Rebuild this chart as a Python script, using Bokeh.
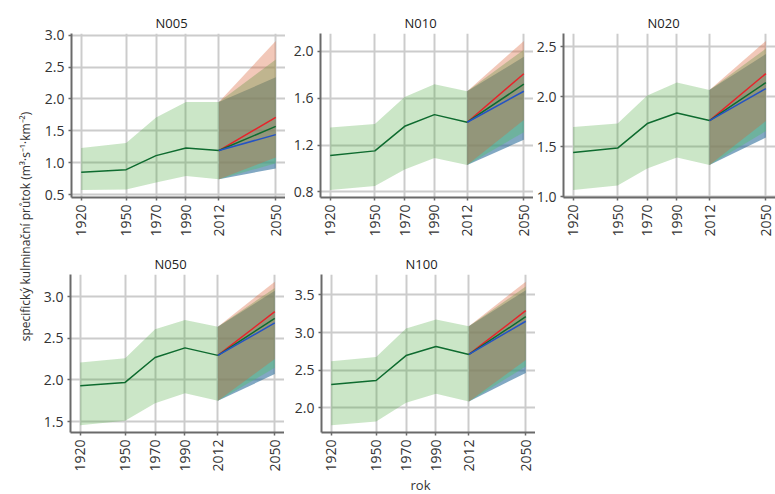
import math

from bokeh.embed import file_html
from bokeh.layouts import column, row
from bokeh.models import FixedTicker, Label, PrintfTickFormatter, Range1d
from bokeh.plotting import figure
from bokeh.resources import INLINE

FONT = "Open Sans"

# time axis
hist_years = [1920, 1950, 1970, 1990, 2012]
proj_years = [2012, 2050]
year_ticks = [1920, 1950, 1970, 1990, 2012, 2050]

# historical mean and envelope (m3/s/km2)
n005_mean = [0.85, 0.89, 1.11, 1.23, 1.19]
n005_low = [0.57, 0.58, 0.69, 0.79, 0.74]
n005_high = [1.23, 1.31, 1.71, 1.95, 1.95]
n010_mean = [1.11, 1.15, 1.36, 1.46, 1.395]
n010_low = [0.815, 0.85, 0.99, 1.09, 1.03]
n010_high = [1.35, 1.38, 1.61, 1.72, 1.66]
n020_mean = [1.44, 1.485, 1.73, 1.835, 1.76]
n020_low = [1.065, 1.11, 1.28, 1.39, 1.315]
n020_high = [1.695, 1.73, 2.01, 2.14, 2.065]
n050_mean = [1.93, 1.97, 2.27, 2.385, 2.295]
n050_low = [1.455, 1.51, 1.72, 1.84, 1.75]
n050_high = [2.21, 2.26, 2.61, 2.72, 2.64]
n100_mean = [2.31, 2.365, 2.695, 2.815, 2.71]
n100_low = [1.77, 1.82, 2.07, 2.19, 2.085]
n100_high = [2.62, 2.675, 3.055, 3.175, 3.085]

# 2050 projections, one value per scenario: [red, green, blue]
n005_2050_mean = [1.71, 1.57, 1.44]
n005_2050_low = [1.08, 0.99, 0.91]
n005_2050_high = [2.91, 2.62, 2.34]
n010_2050_mean = [1.81, 1.72, 1.66]
n010_2050_low = [1.415, 1.31, 1.245]
n010_2050_high = [2.09, 2.015, 1.955]
n020_2050_mean = [2.23, 2.14, 2.08]
n020_2050_low = [1.755, 1.655, 1.59]
n020_2050_high = [2.556, 2.48, 2.425]
n050_2050_mean = [2.82, 2.74, 2.685]
n050_2050_low = [2.25, 2.145, 2.07]
n050_2050_high = [3.18, 3.105, 3.07]
n100_2050_mean = [3.29, 3.21, 3.15]
n100_2050_low = [2.635, 2.55, 2.465]
n100_2050_high = [3.675, 3.61, 3.56]

# y ticks per panel
n005_ticks = [0.5, 1.0, 1.5, 2.0, 2.5, 3.0]
n010_ticks = [0.8, 1.2, 1.6, 2.0]
n020_ticks = [1.0, 1.5, 2.0, 2.5]
n050_ticks = [1.5, 2.0, 2.5, 3.0]
n100_ticks = [2.0, 2.5, 3.0, 3.5]

y_title = "specifický kulminační průtok (m³·s⁻¹·km⁻²)"
x_title = "rok"

HIST_FILL = "#46A537"
HIST_ALPHA = 0.28
LINE_DARK = "#0E6B2F"
# scenario envelopes: [red, green, blue]
SCEN_FILL = ["#DB6237", "#56BE71", "#1C6192"]
SCEN_ALPHA = [0.35, 0.45, 0.55]
SCEN_LINE = ["#E8222A", "#0E6B2F", "#2453C4"]
GRID = "#cccccc"
AXIS = "#6a6a6a"
TEXT = "#333333"


def panel(name, mean, low, high, m50, l50, h50, yticks,
          width, height, border_left, border_top, frame_h):
    span = year_ticks[-1] - year_ticks[0]
    xpad = 0.05 * span
    lo = min(low + l50)
    hi = max(high + h50)
    ypad = 0.05 * (hi - lo)
    p = figure(width=width, height=height,
               x_range=Range1d(year_ticks[0] - xpad, year_ticks[-1] + xpad),
               y_range=Range1d(lo - ypad, hi + ypad),
               output_backend="svg", toolbar_location=None,
               min_border_left=border_left, min_border_right=0,
               min_border_top=border_top,
               min_border_bottom=height - border_top - frame_h,
               title=name)
    p.outline_line_color = None
    p.background_fill_color = "white"
    p.border_fill_color = "white"

    p.title.align = "left"
    p.title.offset = 84
    p.title.standoff = 4
    p.title.text_font = FONT
    p.title.text_font_size = "13px"
    p.title.text_font_style = "normal"
    p.title.text_color = "#222222"

    p.xaxis.ticker = FixedTicker(ticks=year_ticks)
    p.yaxis.ticker = FixedTicker(ticks=yticks)
    p.yaxis.formatter = PrintfTickFormatter(format="%.1f")
    p.xaxis.major_label_orientation = math.pi / 2
    for ax in (p.xaxis, p.yaxis):
        ax.axis_line_color = AXIS
        ax.axis_line_width = 2
        ax.major_tick_line_color = AXIS
        ax.major_tick_line_width = 1.5
        ax.major_tick_out = 3
        ax.major_tick_in = 0
        ax.minor_tick_line_color = None
        ax.major_label_standoff = 4
        ax.major_label_text_font = FONT
        ax.major_label_text_font_size = "14px"
        ax.major_label_text_color = TEXT
    p.grid.grid_line_color = GRID
    p.grid.grid_line_width = 2

    # historical envelope and mean
    p.varea(x=hist_years, y1=low, y2=high,
            fill_color=HIST_FILL, fill_alpha=HIST_ALPHA)
    # scenario envelopes, blue first so red sits on top
    for i in (2, 1, 0):
        p.varea(x=proj_years, y1=[low[-1], l50[i]], y2=[high[-1], h50[i]],
                fill_color=SCEN_FILL[i], fill_alpha=SCEN_ALPHA[i])
    p.line(hist_years, mean, line_color=LINE_DARK, line_width=1.5)
    for i in (0, 1, 2):
        p.line(proj_years, [mean[-1], m50[i]],
               line_color=SCEN_LINE[i], line_width=1.5)
    return p


LAB_W = 34
ROW1_H, ROW2_H, BOT_H = 250, 224, 20

f1 = panel("N005", n005_mean, n005_low, n005_high,
           n005_2050_mean, n005_2050_low, n005_2050_high, n005_ticks,
           251, ROW1_H, 37, 33, 164)
f2 = panel("N010", n010_mean, n010_low, n010_high,
           n010_2050_mean, n010_2050_low, n010_2050_high, n010_ticks,
           248, ROW1_H, 35, 33, 164)
f3 = panel("N020", n020_mean, n020_low, n020_high,
           n020_2050_mean, n020_2050_low, n020_2050_high, n020_ticks,
           242, ROW1_H, 28, 33, 164)
f4 = panel("N050", n050_mean, n050_low, n050_high,
           n050_2050_mean, n050_2050_low, n050_2050_high, n050_ticks,
           250, ROW2_H, 36, 22, 165)
f5 = panel("N100", n100_mean, n100_low, n100_high,
           n100_2050_mean, n100_2050_low, n100_2050_high, n100_ticks,
           251, ROW2_H, 37, 22, 165)


def text_strip(width, height):
    s = figure(width=width, height=height, output_backend="svg",
               toolbar_location=None, min_border=0,
               x_axis_type=None, y_axis_type=None,
               x_range=Range1d(0, 1), y_range=Range1d(0, 1))
    s.outline_line_color = None
    s.grid.visible = False
    return s


# shared x title under the lower row
xlab = text_strip(775 - LAB_W, BOT_H)
xlab.add_layout(Label(x=420 - LAB_W, y=10, x_units="screen", y_units="screen",
                      text=x_title, text_align="center",
                      text_baseline="middle", text_font=FONT,
                      text_font_size="13px", text_color=TEXT))

# shared y title in its own narrow strip
total_h = ROW1_H + ROW2_H + BOT_H
ylab = text_strip(LAB_W, total_h)
ylab.add_layout(Label(x=25, y=total_h - 226, x_units="screen",
                      y_units="screen", text=y_title, angle=math.pi / 2,
                      text_align="center", text_baseline="middle",
                      text_font=FONT, text_font_size="12px",
                      text_color=TEXT))

layout = row(ylab, column(row(f1, f2, f3), row(f4, f5), xlab))

with open("out.html", "w") as fh:
    fh.write(file_html(layout, INLINE))
